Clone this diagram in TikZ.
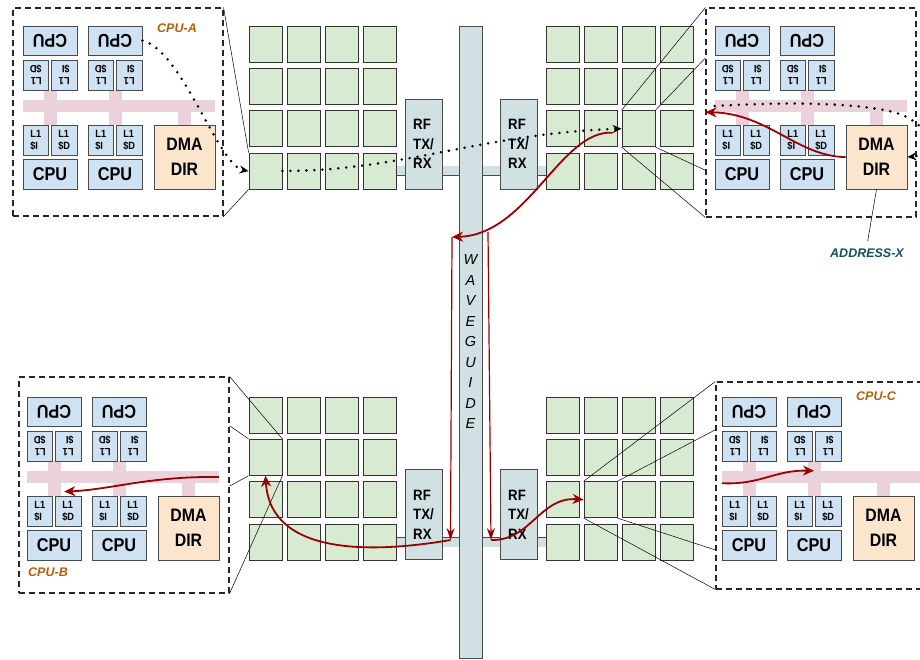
\documentclass[tikz,border=0pt]{standalone}
\usepackage{fontspec}
\setmainfont{Liberation Sans}
\newfontfamily\narrowsf[FakeStretch=0.88]{Liberation Sans}
\usepackage{graphicx}
\usetikzlibrary{arrows.meta, positioning, calc, backgrounds}
\definecolor{tilegreen}{HTML}{D9EAD3}
\definecolor{cpublue}{HTML}{CFE2F3}
\definecolor{dmapeach}{HTML}{FCE5CD}
\definecolor{buspink}{HTML}{EAD1DC}
\definecolor{wgblue}{HTML}{D0E0E3}
\definecolor{signal}{HTML}{990000}
\definecolor{tagorange}{HTML}{B45F06}
\definecolor{tagteal}{HTML}{134F5C}
\definecolor{rimgray}{HTML}{4A4A4A}
\tikzset{
  tile/.style={
    rectangle, draw=black!80, fill=tilegreen, line width=0.8pt,
    minimum width=33pt, minimum height=36pt, inner sep=0pt
  },
  cpubox/.style={
    rectangle, draw=rimgray, fill=cpublue, line width=0.8pt,
    minimum width=54pt, minimum height=29pt, inner sep=0pt,
    font=\narrowsf\bfseries\fontsize{18.5}{18.5}\selectfont
  },
  cachebox/.style={cpubox, minimum width=25.5pt, minimum height=30pt, align=left,
                   font=\narrowsf\bfseries\fontsize{10.5}{12}\selectfont},
  dmabox/.style={cpubox, fill=dmapeach, minimum width=61pt, minimum height=64pt,
                 align=center, font=\narrowsf\bfseries\fontsize{18}{25}\selectfont},
  busbar/.style={rectangle, fill=buspink, minimum height=12pt, inner sep=0pt},
  rfbox/.style={
    rectangle, draw=rimgray, fill=wgblue, line width=0.8pt,
    minimum width=37pt, minimum height=90pt, inner sep=0pt, align=left,
    font=\narrowsf\bfseries\fontsize{15}{19.5}\selectfont
  },
  guidebox/.style={rfbox, minimum width=23pt, minimum height=632pt, align=center,
                   font=\itshape\fontsize{14.5}{20.5}\selectfont},
  linkbar/.style={draw=rimgray, line width=0.8pt, double=wgblue, double distance=9pt},
  clusterbox/.style={rectangle, draw=black!85, dash pattern=on 6pt off 4pt, line width=1.1pt},
  zoomline/.style={draw=black, line width=0.5pt},
  tagtext/.style={font=\bfseries\itshape\fontsize{12.5}{12.5}\selectfont, text=tagorange},
  dotarrow/.style={line width=2.8pt, line cap=round, dash pattern=on 0pt off 8pt,
                   -{Stealth[length=9pt, width=8pt]}},
  hoparrow/.style={draw=signal, line width=1.8pt,
                   -{Stealth[length=11pt, width=10pt, inset=3.5pt]}},
  droparrow/.style={draw=signal, line width=1.2pt,
                    -{Stealth[length=12pt, width=8pt, inset=4pt]}},
}
% one core group: #1 name, #2/#3 top left of the first CPU, #4 bus length
\newcommand{\cpucluster}[4]{%
  \begin{scope}[shift={(#2,#3)}]
    \node[busbar, minimum width=#4pt] (#1bus) at (#4/2,80) {};
    \foreach \x in {27,92}
      \fill[buspink] (\x-6.5,64) rectangle (\x+6.5,99);
    \fill[buspink] (154.5,86) rectangle (167.5,99);
    \node[cpubox] (#1u1) at (27,14.5) {\rotatebox{180}{CPU}};
    \node[cpubox] (#1u2) at (92,14.5) {\rotatebox{180}{CPU}};
    \foreach \x/\c/\i in {12.75/D/1, 41.25/I/2, 77.75/D/3, 106.25/I/4}
      \node[cachebox, rotate=180] (#1h\i) at (\x,49) {L1\\\$\c};
    \foreach \x/\c/\i in {12.75/I/1, 41.25/D/2, 77.75/I/3, 106.25/D/4}
      \node[cachebox] (#1l\i) at (\x,114) {L1\\\$\c};
    \node[cpubox, minimum height=30pt] (#1c1) at (27,148) {CPU};
    \node[cpubox, minimum height=30pt] (#1c2) at (92,148) {CPU};
    \node[dmabox] (#1dma) at (161.5,131) {DMA\\DIR};
  \end{scope}}

\begin{document}
\begin{tikzpicture}[x=1pt, y=-1pt]
  \useasboundingbox (0,0) rectangle (920,659);
  \clip (0,0) rectangle (920,659);

  \node[clusterbox, minimum width=210pt, minimum height=208pt] (A) at (118,112) {};
  \node[clusterbox, minimum width=210pt, minimum height=209pt] (X) at (811,112.5) {};
  \node[clusterbox, minimum width=210pt, minimum height=216pt] (B) at (124,485) {};
  \node[clusterbox, minimum width=210pt, minimum height=207pt] (C) at (821,485.5) {};

  \cpucluster{A}{23}{26}{192}
  \cpucluster{X}{715}{26}{192}
  \cpucluster{B}{27}{397}{192}
  \cpucluster{C}{722}{397}{200}

  \node[tagtext] (tagA) at (177,28) {CPU-A};
  \node[tagtext] (tagB) at (48,572) {CPU-B};
  \node[tagtext] (tagC) at (876,396) {CPU-C};
  \node[tagtext, text=tagteal] (tagX) at (867,253) {ADDRESS-X};
  \draw[zoomline, shorten >=4pt] (Xdma.south) -- (tagX.north);

  \foreach \r in {1,...,4}
    \foreach \c in {1,...,4} {
      \node[tile] (nw\r\c) at ({265.5+38*(\c-1)}, {44+42.33*(\r-1)}) {};
      \node[tile] (ne\r\c) at ({562.5+38*(\c-1)}, {44+42.33*(\r-1)}) {};
      \node[tile] (sw\r\c) at ({265.5+38*(\c-1)}, {415+42.33*(\r-1)}) {};
      \node[tile] (se\r\c) at ({562.5+38*(\c-1)}, {415+42.33*(\r-1)}) {};
    }

  \node[guidebox] (wg) at (470.5,342) {W\\A\\V\\E\\G\\U\\I\\D\\E};
  \node[rfbox] (rfnw) at (423.5,144) {RF\\TX/\\RX};
  \node[rfbox] (rfne) at (518.5,144) {RF\\TX/\\RX};
  \node[rfbox] (rfsw) at (423.5,514.5) {RF\\TX/\\RX};
  \node[rfbox] (rfse) at (518.5,514.5) {RF\\TX/\\RX};

  \begin{scope}[on background layer]
    \draw[linkbar] (nw44.east) -- (nw44.east -| rfnw.west);
    \draw[linkbar] (rfnw.east |- nw44.east) -- (wg.west |- nw44.east);
    \draw[linkbar] (wg.east |- ne41.west) -- (rfne.west |- ne41.west);
    \draw[linkbar] (rfne.east |- ne41.west) -- (ne41.west);
    \draw[linkbar] (sw44.east) -- (sw44.east -| rfsw.west);
    \draw[linkbar] (rfsw.east |- sw44.east) -- (wg.west |- sw44.east);
    \draw[linkbar] (wg.east |- se41.west) -- (rfse.west |- se41.west);
    \draw[linkbar] (rfse.east |- se41.west) -- (se41.west);
  \end{scope}

  \draw[zoomline] (A.north east) -- (nw41.north west);
  \draw[zoomline] (A.south east) -- (nw41.south west);
  \draw[zoomline] (ne33.north west) -- (X.north west);
  \draw[zoomline] (ne33.north east) -- ($(X.north west)!0.24!(X.south west)$);
  \draw[zoomline] (ne33.south east) -- ($(X.north west)!0.775!(X.south west)$);
  \draw[zoomline] (ne33.south west) -- (X.south west);
  \draw[zoomline] (sw21.north east) -- (B.north east);
  \draw[zoomline] (sw21.north west) -- ($(B.north east)!0.227!(B.south east)$);
  \draw[zoomline] (sw21.south west) -- ($(B.north east)!0.505!(B.south east)$);
  \draw[zoomline] (sw21.south east) -- (B.south east);
  \draw[zoomline] (se32.north west) -- (C.north west);
  \draw[zoomline] (se32.north east) -- ($(C.north west)!0.232!(C.south west)$);
  \draw[zoomline] (se32.south east) -- ($(C.north west)!0.81!(C.south west)$);
  \draw[zoomline] (se32.south west) -- (C.south west);

  \coordinate (loopX) at (900,114);
  \draw[dotarrow] (Au2.east) .. controls +(40,10) and +(-30,-5) .. (nw41.west);
  \draw[dotarrow] (nw41.east) .. controls +(120,0) and +(-140,5) .. (ne33.west);
  \draw[dotarrow] (Xbus.west) .. controls +(105,-6) and +(-25,-8) .. (loopX)
    .. controls +(35,14) and +(28,-2) .. (Xdma.east);

  \coordinate (dropL) at (452,237);
  \coordinate (dropR) at (488,232);
  \coordinate (feedL) at (450.5,540);
  \coordinate (feedR) at (491,540);
  \draw[hoparrow] (Xdma.west) .. controls +(-47,0) and +(62,1) .. (X.west |- Xbus.south);
  \draw[hoparrow] ([xshift=-9pt, yshift=-4pt]ne33.west) .. controls +(-52,-3) and +(76,-2) .. (dropL);
  \draw[droparrow] (dropL) -- (feedL);
  \draw[droparrow] (dropR) -- (feedR);
  \draw[hoparrow] (feedL) .. controls +(-70,12) and +(5,83) .. (sw21.south);
  \draw[hoparrow] (feedR) .. controls +(40,1) and +(-44,-3) .. (se32.west);
  \draw[hoparrow] (Bbus.east) .. controls +(-70,-1) and +(47,-2) .. ($(Bl2.north)+(-4pt,4pt)$);
  \draw[hoparrow] (Cbus.south west) .. controls +(38,2) and +(-39,-1) .. (Cbus.north -| Cc2.north);
\end{tikzpicture}
\end{document}
